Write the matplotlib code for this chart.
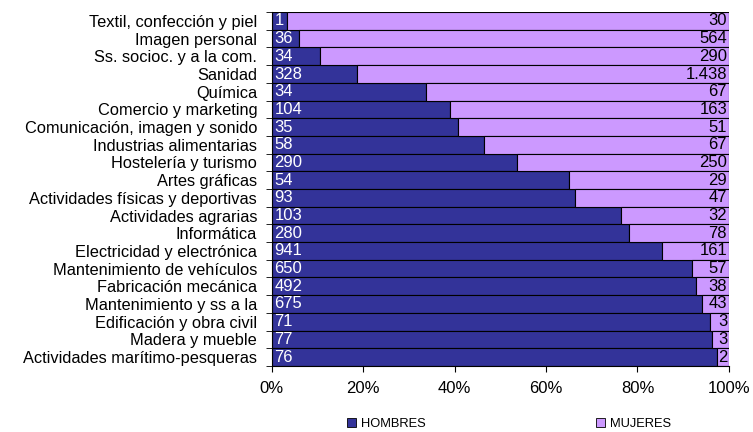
import numpy as np
import matplotlib.pyplot as plt
from matplotlib.patches import Patch

# Categories from top to bottom
categorias = ['Textil, confección y piel', 'Imagen personal', 'Ss. socioc. y a la com.',
              'Sanidad', 'Química', 'Comercio y marketing', 'Comunicación, imagen y sonido',
              'Industrias alimentarias', 'Hostelería y turismo', 'Artes gráficas',
              'Actividades físicas y deportivas', 'Actividades agrarias', 'Informática',
              'Electricidad y electrónica', 'Mantenimiento de vehículos', 'Fabricación mecánica',
              'Mantenimiento y ss a la', 'Edificación y obra civil', 'Madera y mueble',
              'Actividades marítimo-pesqueras']
hombres = [1, 36, 34, 328, 34, 104, 35, 58, 290, 54, 93, 103, 280, 941, 650, 492, 675, 71, 77, 76]
mujeres = [30, 564, 290, 1438, 67, 163, 51, 67, 250, 29, 47, 32, 78, 161, 57, 38, 43, 3, 3, 2]
xticks = [0, 20, 40, 60, 80, 100]

plt.rcParams['font.family'] = ['Liberation Sans', 'DejaVu Sans']

h = np.array(hombres, dtype=float)
m = np.array(mujeres, dtype=float)
tot = h + m
ph = h / tot * 100
pm = m / tot * 100
y = np.arange(len(categorias))[::-1]

fig = plt.figure(figsize=(7.53, 4.32), dpi=100)
ax = fig.add_axes([0.361, 0.153, 0.607, 0.819])

ax.barh(y, ph, height=1.0, color='#333399', edgecolor='black', linewidth=0.8)
ax.barh(y, pm, left=ph, height=1.0, color='#CC99FF', edgecolor='black', linewidth=0.8)

def fmt(v):
    return '{:,}'.format(int(v)).replace(',', '.')

for yi, hv, mv in zip(y, hombres, mujeres):
    ax.text(0.6, yi, fmt(hv), color='white', fontsize=12, ha='left', va='center')
    ax.text(99.6, yi, fmt(mv), color='black', fontsize=12, ha='right', va='center')

ax.set_xlim(0, 100)
ax.set_ylim(-0.5, len(categorias) - 0.5)
ax.set_xticks(xticks)
ax.set_xticklabels(['%d%%' % t for t in xticks], fontsize=12)
ax.set_yticks(y)
ax.set_yticklabels(categorias, fontsize=11.8)
ax.set_yticks(np.arange(len(categorias) + 1) - 0.5, minor=True)
ax.tick_params(axis='y', which='major', length=0, pad=10.5)
ax.tick_params(axis='y', which='minor', length=4, direction='out')
ax.tick_params(axis='x', length=4, direction='out', pad=7)
for s in ['top', 'right']:
    ax.spines[s].set_visible(False)

handles = [Patch(facecolor='#333399', edgecolor='black', linewidth=0.6),
           Patch(facecolor='#CC99FF', edgecolor='black', linewidth=0.6)]
fig.legend(handles, ['HOMBRES', 'MUJERES'], loc='lower center', bbox_to_anchor=(0.676, -0.022),
           ncol=2, frameon=False, fontsize=9.3, handlelength=0.7, handleheight=0.7,
           handletextpad=0.4, columnspacing=13.2)

fig.savefig('out.png', dpi=100)
